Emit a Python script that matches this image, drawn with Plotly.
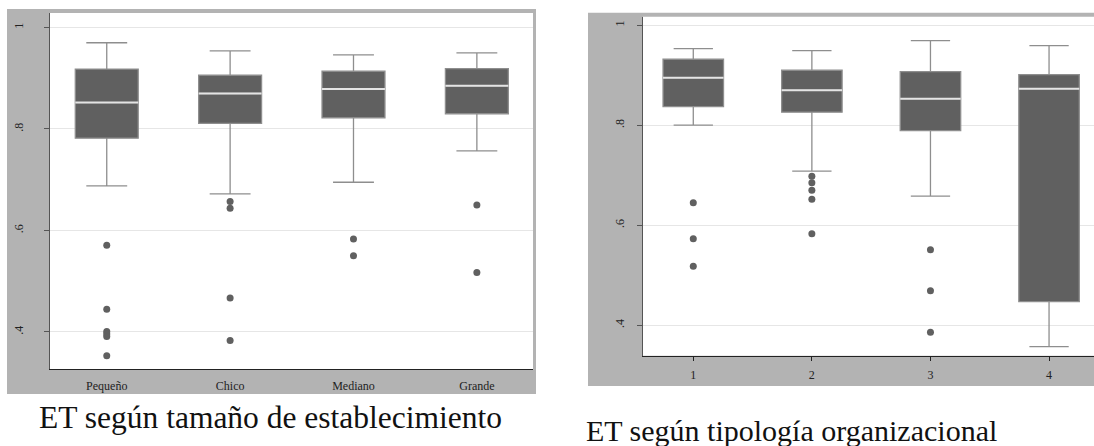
import plotly.graph_objects as go

# ---------------- data ----------------
left_cats = ["Pequeño", "Chico", "Mediano", "Grande"]
left_lo = [0.688, 0.672, 0.695, 0.757]
left_q1 = [0.782, 0.811, 0.822, 0.830]
left_med = [0.852, 0.870, 0.879, 0.885]
left_q3 = [0.918, 0.906, 0.914, 0.919]
left_hi = [0.970, 0.954, 0.946, 0.950]
left_outliers = [
    [0.571, 0.445, 0.401, 0.396, 0.391, 0.353],
    [0.657, 0.644, 0.467, 0.383],
    [0.583, 0.550],
    [0.650, 0.517],
]

right_cats = ["1", "2", "3", "4"]
right_lo = [0.800, 0.708, 0.658, 0.357]
right_q1 = [0.837, 0.826, 0.789, 0.447]
right_med = [0.895, 0.870, 0.853, 0.873]
right_q3 = [0.932, 0.910, 0.907, 0.901]
right_hi = [0.953, 0.949, 0.969, 0.959]
right_outliers = [
    [0.645, 0.573, 0.518],
    [0.698, 0.685, 0.670, 0.652, 0.583],
    [0.551, 0.469, 0.386],
    [],
]

ytick_vals = [0.4, 0.6, 0.8, 1.0]
ytick_text = [".4", ".6", ".8", "1"]

left_title = "ET según tamaño de establecimiento"
right_title = "ET según tipología organizacional"

# ---------------- styling ----------------
W, H = 1094, 446
BOX_FILL = "#606060"
WHISK = "#8e8e8e"
MED = "#e4e4e4"
GRAY_BG = "#b3b3b3"
GRID = "#e6e6e6"
SERIF = "Liberation Serif, Times New Roman, serif"


def px(x):
    return x / W


def py(y):
    return 1 - y / H


fig = go.Figure()


def add_panel(cats, lo, q1, med, q3, hi, outl, xa, ya):
    fig.add_trace(go.Box(
        x=cats, q1=q1, median=med, q3=q3, lowerfence=lo, upperfence=hi,
        width=0.51, whiskerwidth=0.65, fillcolor=BOX_FILL,
        line=dict(color=WHISK, width=1.3), boxpoints=False,
        xaxis=xa, yaxis=ya, showlegend=False, hoverinfo="skip",
    ))
    # white median line overlay
    fig.add_trace(go.Box(
        x=cats, q1=med, median=med, q3=med, lowerfence=med, upperfence=med,
        width=0.51, whiskerwidth=0, fillcolor=MED,
        line=dict(color=MED, width=2), boxpoints=False,
        xaxis=xa, yaxis=ya, showlegend=False, hoverinfo="skip",
    ))
    ox, oy = [], []
    for c, vals in zip(cats, outl):
        for v in vals:
            ox.append(c)
            oy.append(v)
    fig.add_trace(go.Scatter(
        x=ox, y=oy, mode="markers",
        marker=dict(color=BOX_FILL, size=7),
        xaxis=xa, yaxis=ya, showlegend=False, hoverinfo="skip",
    ))


add_panel(left_cats, left_lo, left_q1, left_med, left_q3, left_hi, left_outliers, "x", "y")
add_panel(right_cats, right_lo, right_q1, right_med, right_q3, right_hi, right_outliers, "x2", "y2")

tickfont = dict(family=SERIF, size=12, color="#222")

yaxis_common = dict(
    tickvals=ytick_vals, ticktext=ytick_text, tickangle=-90,
    showgrid=True, gridcolor=GRID, gridwidth=1, zeroline=False,
    showline=True, linecolor="#555", linewidth=1,
    ticks="outside", ticklen=5, tickcolor="#555", tickfont=tickfont,
)

L_DOM_X = [px(50), px(533)]
L_DOM_Y = [py(369), py(13)]
R_DOM_X = [px(643), 1.0]
R_DOM_Y = [py(355.7), py(16.7)]

fig.update_layout(
    width=W, height=H, margin=dict(l=0, r=0, t=0, b=0),
    paper_bgcolor="white", plot_bgcolor="white",
    boxmode="overlay", boxgap=0, boxgroupgap=0,
    xaxis=dict(domain=L_DOM_X, type="category", range=[-0.46, 3.455],
               showline=True, linecolor="#222", linewidth=1, showgrid=False,
               ticks="", tickfont=tickfont, ticklabelstandoff=6, anchor="y"),
    yaxis=dict(domain=L_DOM_Y, range=[0.327, 1.0286], anchor="x",
               ticklabelstandoff=16, **yaxis_common),
    xaxis2=dict(domain=R_DOM_X, type="category", range=[-0.424, 3.379],
                showline=True, linecolor="#222", linewidth=1, showgrid=False,
                ticks="outside", ticklen=4, tickcolor="#222", tickfont=tickfont,
                ticklabelstandoff=4, anchor="y2"),
    yaxis2=dict(domain=R_DOM_Y, range=[0.339, 1.017], anchor="x2",
                ticklabelstandoff=8, **yaxis_common),
    shapes=[
        dict(type="rect", xref="paper", yref="paper", layer="below",
             x0=px(7), x1=px(536), y0=py(394), y1=py(9),
             fillcolor=GRAY_BG, line=dict(width=0)),
        dict(type="rect", xref="paper", yref="paper", layer="below",
             x0=px(588), x1=1.0, y0=py(386), y1=py(12.7),
             fillcolor=GRAY_BG, line=dict(width=0)),
        dict(type="rect", xref="paper", yref="paper", layer="below",
             x0=L_DOM_X[0], x1=L_DOM_X[1], y0=L_DOM_Y[0], y1=L_DOM_Y[1],
             fillcolor="white", line=dict(width=0)),
        dict(type="rect", xref="paper", yref="paper", layer="below",
             x0=R_DOM_X[0], x1=R_DOM_X[1], y0=R_DOM_Y[0], y1=R_DOM_Y[1],
             fillcolor="white", line=dict(width=0)),
    ],
    annotations=[
        dict(text=left_title, xref="paper", yref="paper", x=px(270), y=py(417.5),
             xanchor="center", yanchor="middle", showarrow=False,
             font=dict(family=SERIF, size=31.5, color="#111")),
        dict(text=right_title, xref="paper", yref="paper", x=px(791), y=py(430),
             xanchor="center", yanchor="middle", showarrow=False,
             font=dict(family=SERIF, size=30, color="#111")),
    ],
)

fig.write_html("out.html")
